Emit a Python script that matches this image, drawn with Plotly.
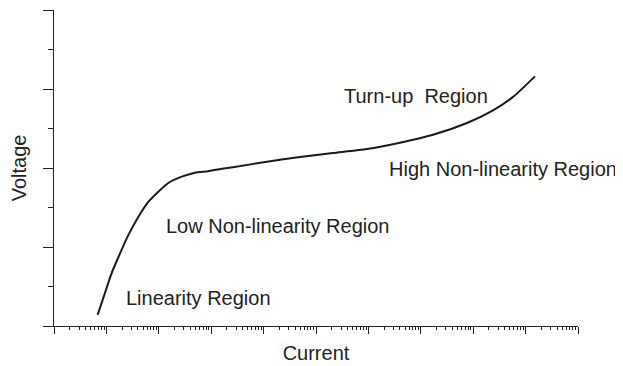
import plotly.graph_objects as go

# V-I characteristic (log current, linear voltage)
current = [6.8, 9.4, 12.6, 16.9, 26.2, 40.6, 63, 98, 152, 274, 491, 869,
           1585, 2606, 1.16e4, 4.95e4, 2.11e5, 9.4e5, 4.0e6, 1.71e7,
           7.6e7, 2.39e8, 5.75e8, 1.51e9]
voltage = [0.14, 0.42, 0.67, 0.87, 1.15, 1.38, 1.57, 1.70, 1.81, 1.89, 1.94, 1.96,
           1.99, 2.01, 2.08, 2.14, 2.19, 2.24, 2.32, 2.42,
           2.57, 2.73, 2.90, 3.16]

region_labels = ["Linearity Region", "Low Non-linearity Region",
                 "Turn-up  Region", "High Non-linearity Region"]
# annotation positions on the log axis are given as log10(current)
label_logx = [2.75, 4.27, 6.91, 8.57]
label_y = [0.35, 1.27, 2.91, 1.99]

font = dict(family="Liberation Sans, Arial, sans-serif", size=20, color="#222")

fig = go.Figure()
fig.add_trace(go.Scatter(x=current, y=voltage, mode="lines",
                         line=dict(color="#1a1a1a", width=2, shape="spline", smoothing=0.6),
                         showlegend=False, hoverinfo="skip"))

for t, x, y in zip(region_labels, label_logx, label_y):
    fig.add_annotation(x=x, y=y, text=t, showarrow=False, xref="x", yref="y",
                       font=font, xanchor="center", yanchor="middle")

fig.update_xaxes(type="log", range=[0, 10], dtick=1, showticklabels=False,
                 ticks="outside", ticklen=7, tickwidth=1, tickcolor="#222",
                 showline=True, linecolor="#222", linewidth=1.2, showgrid=False, zeroline=False,
                 minor=dict(ticks="outside", ticklen=3, tickcolor="#222", dtick="D1", showgrid=False),
                 title=dict(text="Current", font=font, standoff=12), automargin=False)
fig.update_yaxes(range=[0, 4], dtick=1, showticklabels=False,
                 ticks="outside", ticklen=10, tickwidth=1, tickcolor="#222",
                 showline=True, linecolor="#222", linewidth=1.2, showgrid=False, zeroline=False,
                 minor=dict(ticks="outside", ticklen=5, tickcolor="#222", dtick=0.5, showgrid=False),
                 title=dict(text="Voltage", font=font, standoff=14), automargin=False)
# page body adds an 8px offset, so the figure is a little smaller than the window
fig.update_layout(width=615, height=358, plot_bgcolor="white", paper_bgcolor="white",
                  font=font, margin=dict(l=46, r=45, t=2, b=40))
fig.write_html("out.html")
